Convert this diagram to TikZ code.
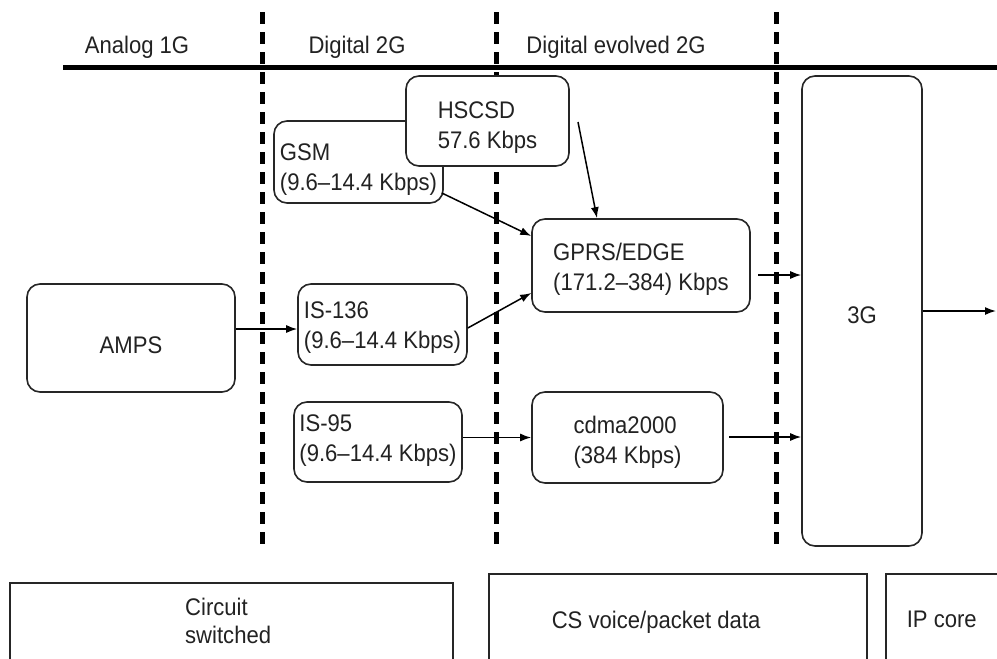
\documentclass[tikz,border=0pt]{standalone}
\usepackage{fontspec}
\setmainfont{Liberation Sans}[FakeStretch=0.92]
\usetikzlibrary{arrows.meta,calc}
\setlength{\parindent}{0pt}
\definecolor{ink}{HTML}{222222}
% two-line label; #1 sets the height of the first line (vertical placement)
\newcommand{\twoline}[3]{\rule{0pt}{#1pt}#2\\#3\rule[-7pt]{0pt}{0pt}}
% one-line label with a fixed strut
\newcommand{\oneline}[3]{\rule[-#2pt]{0pt}{#1pt}#3}
% left-aligned block of a given width
\newcommand{\leftblock}[2]{\parbox{#1pt}{\raggedright #2}}
\tikzset{
  gen/.style={draw=black!85, line width=1.6pt, rounded corners=13pt, fill=white,
    align=left, inner sep=0pt, text=ink, font=\fontsize{24}{30}\selectfont},
  era/.style={text=ink, font=\fontsize{24}{30}\selectfont, inner sep=0pt},
  core/.style={draw=black!85, line width=1.6pt, anchor=north west,
    inner ysep=0pt, text=ink, font=\fontsize{24}{28}\selectfont},
  coretext/.style={text=ink, font=\fontsize{24}{28}\selectfont, inner sep=0pt,
    align=left, anchor=west},
  divider/.style={line width=5pt, dash pattern=on 12pt off 8pt},
  arr/.style={-{Latex[length=11pt,width=8pt]}, line width=1.5pt},
}
\begin{document}
\begin{tikzpicture}[x=1pt,y=-1pt]
\useasboundingbox (0,0) rectangle (997,659);
\clip (0,0) rectangle (997,659);

% timeline and era labels
\draw[line width=5pt] (63,67) -- (997,67);
\node[era] (lab1) at (137,47) {Analog 1G};
\node[era] (lab2) at (357,47) {Digital 2G};
\node[era] (lab3) at (616,47) {Digital evolved 2G};

% era dividers
\draw[divider] (262,12) -- (262,548);
\draw[divider] (496,12) -- (496,548);
\draw[divider] (776,12) -- (776,548);

% technology boxes
\node[gen, minimum width=208, minimum height=108] (amps) at (131,338) {\oneline{31}{0}{AMPS}};
\node[gen, minimum width=169, minimum height=82] (gsm) at (358.5,162) {\twoline{34}{GSM}{(9.6–14.4 Kbps)}};
\node[gen, minimum width=163, minimum height=90] (hscsd) at (487.5,121) {\twoline{32}{HSCSD}{57.6 Kbps}};
\node[gen, minimum width=169, minimum height=81] (is136) at (382.5,324.5) {\twoline{25}{IS-136}{(9.6–14.4 Kbps)}};
\node[gen, minimum width=168, minimum height=80] (is95) at (378,442) {\twoline{16}{IS-95}{(9.6–14.4 Kbps)}};
\node[gen, minimum width=218, minimum height=93] (gprs) at (641,265.5) {\twoline{26}{GPRS/EDGE}{(171.2–384) Kbps}};
\node[gen, minimum width=191, minimum height=91] (cdma) at (627.5,437.5) {\twoline{29}{cdma2000}{(384 Kbps)}};
\node[gen, minimum width=120, minimum height=470] (g3) at (862,311) {\oneline{25}{0}{3G}};

% connectors
\coordinate (ain) at ($(is136.west)+(0,4.5)$);
\draw[arr] (ain -| amps.east) -- (ain);
\draw[arr] ($(is136.east)+(0,3.5)$) -- ($(gprs.west)+(0,27.5)$);
\draw[arr] ($(gsm.east)+(-2,31)$) -- ($(gprs.west)+(0,-29.5)$);
\coordinate (hsout) at (578,122);
\draw[arr] (hsout) -- ($(gprs.north)+(-44,0)$);
\draw[arr] (is95.east |- cdma.west) -- (cdma.west);
\coordinate (gpout) at (758,275);
\draw[arr] (gpout) -- (gpout -| g3.west);
\coordinate (cdout) at (729,437);
\draw[arr] (cdout) -- (cdout -| g3.west);
\coordinate (exit) at (996,311);
\draw[arr] (g3.east) -- (exit);

% core network types
\node[core, minimum width=443, minimum height=80] (circ) at (9,582) {};
\node[coretext] (circtext) at (185,621) {Circuit\\switched};
\node[core, minimum height=98, inner xsep=63pt] (csv) at (488,573)
  {\leftblock{252}{\oneline{24}{7}{CS voice/packet data}}};
\node[core, minimum height=98, inner xsep=21pt] (ipc) at (885,573)
  {\leftblock{150}{\oneline{24}{7}{IP core}}};
\end{tikzpicture}
\end{document}
